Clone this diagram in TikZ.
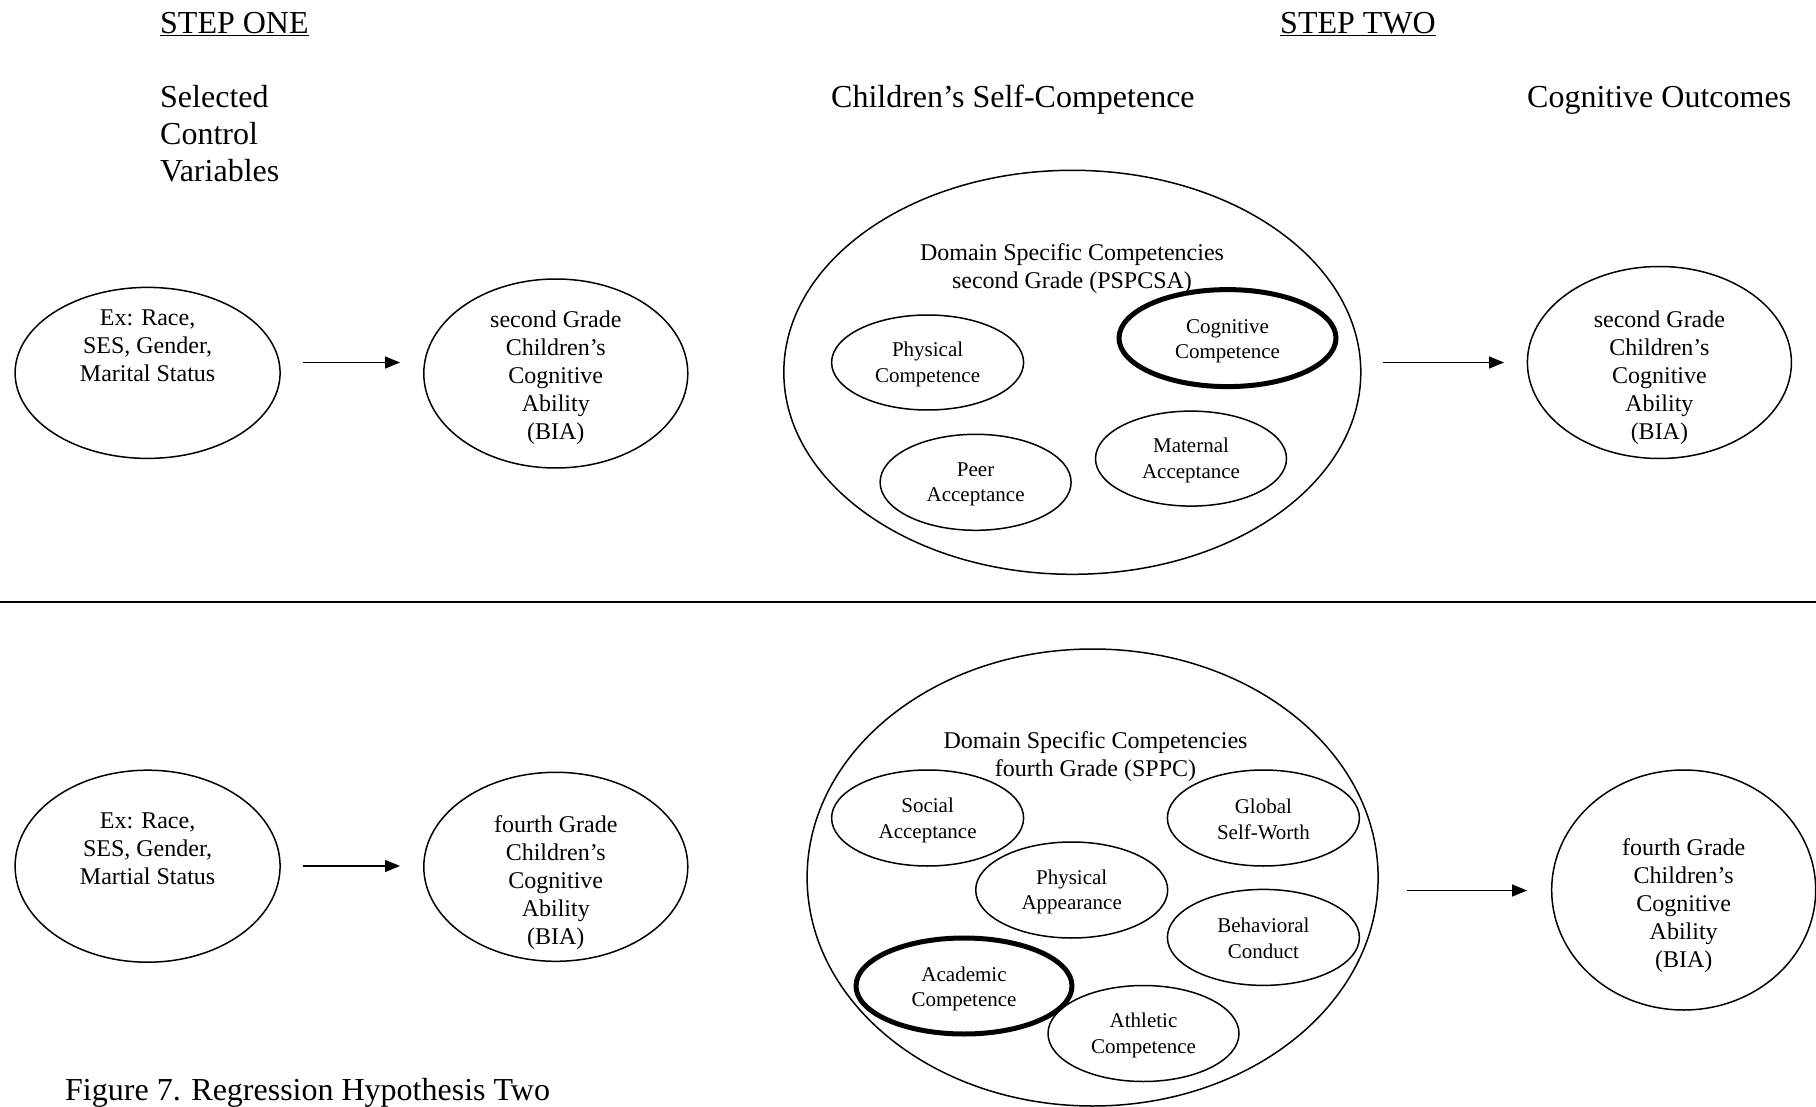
\documentclass[tikz,border=0pt]{standalone}
\usepackage{fontspec}
\setmainfont{Liberation Serif}
\usetikzlibrary{shapes.geometric,arrows.meta}
\begin{document}
\begin{tikzpicture}[x=1pt,y=-1pt,
  ell/.style={draw,ellipse,line width=1.5pt,inner sep=0pt},
  boldell/.style={draw,ellipse,line width=5pt,inner sep=0pt},
  arr/.style={line width=1.5pt,-{Triangle[length=15pt,width=12pt]}},
  head/.style={font=\fontsize{32}{37}\selectfont,inner sep=0pt},
  bigtxt/.style={font=\fontsize{24}{28}\selectfont,align=center,inner sep=0pt},
  smalltxt/.style={font=\fontsize{21}{25.5}\selectfont,align=center,inner sep=0pt}]
\useasboundingbox (0,0) rectangle (1816,1107);

% headings
\node[head,anchor=base west] (s1) at (160,33.6) {\underline{STEP ONE}};
\node[head,anchor=base west] (s2) at (1280,33.6) {\underline{STEP TWO}};
\node[head,anchor=north west,align=left] (cv) at (160,84.7) {Selected\\Control\\Variables};
\node[head,anchor=base west] (sc) at (831,107.6) {Children’s Self-Competence};
\node[head,anchor=base west] (co) at (1527,107.6) {Cognitive Outcomes};

% ===== row 1 =====
\node[ell,minimum width=265pt,minimum height=171pt] (a1) at (147.6,372.9) {};
\node[bigtxt] (t1) at (147.6,346) {Ex: Race,\\SES, Gender,\\Marital Status};
\node[ell,minimum width=264pt,minimum height=189pt] (a2) at (555.8,373.5) {};
\node[bigtxt] (t2) at (555.8,377.5) {second Grade\\Children’s\\Cognitive\\Ability\\(BIA)};
\node[ell,minimum width=577pt,minimum height=404pt] (b1) at (1072.3,372.3) {};
\node[bigtxt] (d1) at (1072,268.5) {Domain Specific Competencies\\second Grade (PSPCSA)};
\node[ell,minimum width=192pt,minimum height=95pt] (pc) at (927.6,362.5) {};
\node[smalltxt] (pct) at (927.6,364.5) {Physical\\Competence};
\node[boldell,minimum width=217pt,minimum height=97pt] (cc) at (1227.5,338.1) {};
\node[smalltxt] (cct) at (1227.5,341.5) {Cognitive\\Competence};
\node[ell,minimum width=191pt,minimum height=96pt] (pa) at (975.6,482.3) {};
\node[smalltxt] (pat) at (975.6,484.5) {Peer\\Acceptance};
\node[ell,minimum width=191pt,minimum height=95pt] (ma) at (1191,458.6) {};
\node[smalltxt] (mat) at (1191,460.5) {Maternal\\Acceptance};
\node[ell,minimum width=264pt,minimum height=192pt] (a3) at (1659.4,362.5) {};
\node[bigtxt] (t3) at (1659.4,377.5) {second Grade\\Children’s\\Cognitive\\Ability\\(BIA)};

\coordinate (p1s) at (303,362.5); \coordinate (p1e) at (400,362.5);
\coordinate (p2s) at (1382.6,362.5); \coordinate (p2e) at (1504,362.5);
\draw[arr] (p1s) -- (p1e);
\draw[arr] (p2s) -- (p2e);

% divider
\coordinate (dl) at (0,602); \coordinate (dr) at (1816,602);
\draw[line width=1.5pt] (dl) -- (dr);

% ===== row 2 =====
\node[ell,minimum width=265pt,minimum height=192pt] (c1) at (147.6,866.2) {};
\node[bigtxt] (t4) at (147.6,849) {Ex: Race,\\SES, Gender,\\Martial Status};
\node[ell,minimum width=264pt,minimum height=189pt] (c2) at (555.8,866.8) {};
\node[bigtxt] (t5) at (555.8,882.5) {fourth Grade\\Children’s\\Cognitive\\Ability\\(BIA)};
\node[ell,minimum width=571pt,minimum height=457pt] (b2) at (1092.6,877.5) {};
\node[bigtxt] (d2) at (1095.5,756.5) {Domain Specific Competencies\\fourth Grade (SPPC)};
\node[ell,minimum width=192pt,minimum height=96pt] (sa) at (927.6,818) {};
\node[smalltxt] (sat) at (927.6,820.5) {Social\\Acceptance};
\node[ell,minimum width=192pt,minimum height=96pt] (gs) at (1263.4,818) {};
\node[smalltxt] (gst) at (1263.4,819.5) {Global\\Self-Worth};
\node[ell,minimum width=192pt,minimum height=96pt] (ph) at (1071.7,890) {};
\node[smalltxt] (pht) at (1071.7,892) {Physical\\Appearance};
\node[ell,minimum width=192pt,minimum height=96pt] (bc) at (1263.4,937.4) {};
\node[smalltxt] (bct) at (1263.4,938.5) {Behavioral\\Conduct};
\node[boldell,minimum width=216pt,minimum height=96pt] (ac) at (964,986) {};
\node[smalltxt] (act) at (964,989) {Academic\\Competence};
\node[ell,minimum width=191pt,minimum height=96pt] (at) at (1143.5,1033.5) {};
\node[smalltxt] (att) at (1143.5,1035.5) {Athletic\\Competence};
\node[ell,minimum width=264pt,minimum height=240pt] (c3) at (1683.7,890) {};
\node[bigtxt] (t6) at (1683.7,905.5) {fourth Grade\\Children’s\\Cognitive\\Ability\\(BIA)};

\coordinate (q1s) at (303,866); \coordinate (q1e) at (400,866);
\coordinate (q2s) at (1407,890.5); \coordinate (q2e) at (1527,890.5);
\draw[arr] (q1s) -- (q1e);
\draw[arr] (q2s) -- (q2e);

\node[head,anchor=base west] (cap) at (65,1100) {Figure 7. Regression Hypothesis Two};
\end{tikzpicture}
\end{document}
